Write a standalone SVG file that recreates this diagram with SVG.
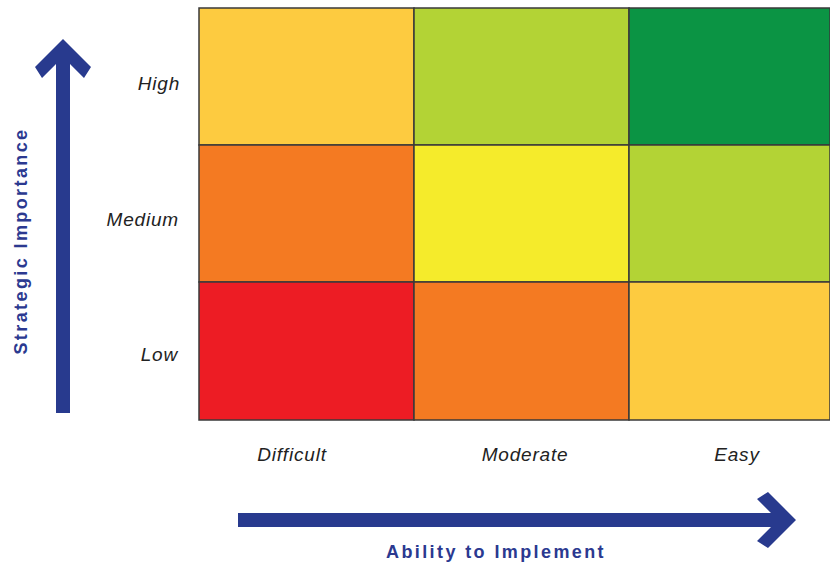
<svg xmlns="http://www.w3.org/2000/svg" width="830" height="563" viewBox="0 0 830 563">
<style>
.cell{stroke:#3a3a3a;stroke-width:1.5}
.lbl{font-family:"Liberation Sans",Arial,sans-serif;font-style:italic;font-size:19px;letter-spacing:0.8px;fill:#222}
.axis{font-family:"Liberation Sans",Arial,sans-serif;font-weight:bold;font-size:18px;letter-spacing:2.4px;fill:#2B3990}
.arrow{fill:#283A8E}
</style>
<rect width="830" height="563" fill="#ffffff"/>
<g id="grid">
<rect id="c-high-difficult" class="cell" x="199" y="8" width="215" height="137" fill="#FDCB40"/>
<rect id="c-high-moderate" class="cell" x="414" y="8" width="215" height="137" fill="#B3D335"/>
<rect id="c-high-easy" class="cell" x="629" y="8" width="201" height="137" fill="#0B9444"/>
<rect id="c-med-difficult" class="cell" x="199" y="145" width="215" height="137" fill="#F47A22"/>
<rect id="c-med-moderate" class="cell" x="414" y="145" width="215" height="137" fill="#F5EB2B"/>
<rect id="c-med-easy" class="cell" x="629" y="145" width="201" height="137" fill="#B3D335"/>
<rect id="c-low-difficult" class="cell" x="199" y="282" width="215" height="138" fill="#ED1C24"/>
<rect id="c-low-moderate" class="cell" x="414" y="282" width="215" height="138" fill="#F47A22"/>
<rect id="c-low-easy" class="cell" x="629" y="282" width="201" height="138" fill="#FDCB40"/>
</g>
<g id="row-labels">
<text class="lbl" x="180" y="90" text-anchor="end">High</text>
<text class="lbl" x="179" y="226" text-anchor="end">Medium</text>
<text class="lbl" x="178" y="361" text-anchor="end">Low</text>
</g>
<g id="col-labels">
<text class="lbl" x="292" y="461" text-anchor="middle">Difficult</text>
<text class="lbl" x="525" y="461" text-anchor="middle">Moderate</text>
<text class="lbl" x="737" y="461" text-anchor="middle">Easy</text>
</g>
<g id="connectors">
<polygon id="arrow-vertical" class="arrow" points="63,39 91,67 84,78 70,64 70,413 56,413 56,64 42,78 35,67"/>
<polygon id="arrow-horizontal" class="arrow" points="796,520 768,548 757,541 771,527 238,527 238,513 771,513 757,499 768,492"/>
</g>
<g id="axis-titles">
<text class="axis" x="496" y="558" text-anchor="middle">Ability to Implement</text>
<text class="axis" transform="translate(27,241) rotate(-90)" x="0" y="0" text-anchor="middle">Strategic Importance</text>
</g>
</svg>
